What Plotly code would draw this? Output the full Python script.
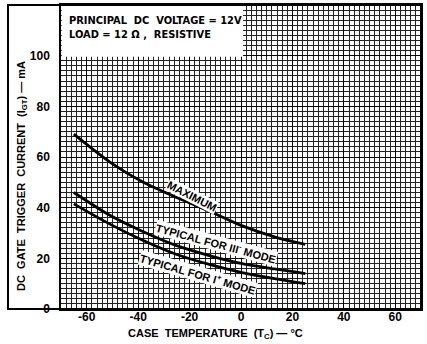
import plotly.graph_objects as go

# Data
temps = [-65, -51, -38, -25, -12, 0, 13, 25]
max_igt = [69, 58, 50, 44, 38.5, 33, 28.5, 25.5]
typ_iii = [46, 37, 30.5, 25, 21, 18, 15.8, 14]
typ_i = [41.5, 33.5, 27, 21.5, 17.5, 14.5, 12, 10]

x_ticks = [-60, -40, -20, 0, 20, 40, 60]
y_ticks = [0, 20, 40, 60, 80, 100]

FONT = "Liberation Sans"
NARROW = "Liberation Sans Narrow, DejaVu Sans Condensed, Liberation Sans"

fig = go.Figure()
for ys in (max_igt, typ_iii, typ_i):
    fig.add_trace(go.Scatter(x=temps, y=ys, mode="lines",
                             line=dict(color="black", width=2.8, shape="spline", smoothing=0.8),
                             showlegend=False, hoverinfo="skip"))

fig.update_layout(
    width=427, height=344,
    margin=dict(l=61, r=6, t=3, b=35),
    paper_bgcolor="white", plot_bgcolor="white",
    font=dict(family=FONT, color="black", size=11),
)
fig.update_xaxes(range=[-70, 70], tickvals=x_ticks, ticktext=[str(v) for v in x_ticks],
                 showgrid=True, gridcolor="black", gridwidth=1.2,
                 minor=dict(dtick=2, tick0=0, showgrid=True, gridcolor="#222", gridwidth=1),
                 showline=True, linecolor="black", linewidth=1.5, mirror=True,
                 ticks="", zeroline=False, ticklabelstandoff=-4,
                 tickfont=dict(family=FONT, size=12, weight="bold"))
fig.update_yaxes(range=[0, 120], tickvals=y_ticks, ticktext=[str(v) for v in y_ticks],
                 showgrid=True, gridcolor="black", gridwidth=1.2,
                 minor=dict(dtick=2, tick0=0, showgrid=True, gridcolor="#222", gridwidth=1),
                 showline=True, linecolor="black", linewidth=1.5, mirror=True,
                 ticks="", zeroline=False, ticklabelstandoff=7,
                 tickfont=dict(family=FONT, size=12, weight="bold"))

# outer frame
fig.add_shape(type="rect", xref="paper", yref="paper", x0=(8-61)/360, x1=1, y0=0, y1=1,
              line=dict(color="black", width=2), layer="above")
# white info box in upper left
fig.add_shape(type="rect", xref="paper", yref="paper", x0=0.002, x1=(243-61)/360, y0=(309-55)/306, y1=0.997,
              fillcolor="white", line=dict(width=0), layer="above")
fig.add_annotation(xref="paper", yref="paper", x=(67-61)/360, y=(309-10)/306, xanchor="left", yanchor="top",
                   align="left", showarrow=False,
                   text="PRINCIPAL  DC  VOLTAGE = 12V<br>LOAD = 12 Ω ,  RESISTIVE",
                   font=dict(family=NARROW, size=11, weight="bold"))

# axis titles
fig.add_annotation(xref="paper", yref="paper", x=(22-61)/360, y=(309-175)/306, textangle=-90,
                   xanchor="center", yanchor="middle",
                   showarrow=False, text="DC  GATE  TRIGGER  CURRENT  (I<sub>GT</sub>) — mA",
                   font=dict(family=FONT, size=11, weight="bold"))
fig.add_annotation(xref="paper", yref="paper", x=(215-61)/360, y=(309-334)/306,
                   xanchor="center", yanchor="middle",
                   showarrow=False, text="CASE  TEMPERATURE  (T<sub>C</sub>) — °C",
                   font=dict(family=FONT, size=11, weight="bold"))

# curve labels
lab_font = dict(family=FONT, size=11, weight="bold")
fig.add_annotation(x=-19.2, y=44.5, text="MAXIMUM", textangle=27, showarrow=False,
                   bgcolor="white", borderpad=0, font=lab_font)
fig.add_annotation(x=-9.8, y=26.0, text="TYPICAL FOR III<sup>-</sup> MODE", textangle=15, showarrow=False,
                   bgcolor="white", borderpad=0, font=lab_font)
fig.add_annotation(x=-16.6, y=14.0, text="TYPICAL FOR I<sup>+</sup> MODE", textangle=16, showarrow=False,
                   bgcolor="white", borderpad=0, font=lab_font)

fig.write_html("out.html", config={"displayModeBar": False},
               post_script="document.body.style.margin='0';")
